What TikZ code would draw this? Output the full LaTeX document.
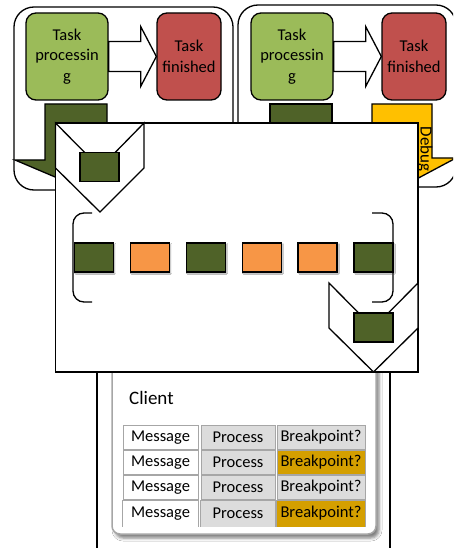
\documentclass[tikz,border=0pt]{standalone}
\usepackage{fontspec}
\setmainfont{Carlito}
\usetikzlibrary{shadows.blur,calc}
\definecolor{lgreen}{HTML}{9BBB59}
\definecolor{tred}{HTML}{C0504D}
\definecolor{dgreen}{HTML}{4F6228}
\definecolor{orng}{HTML}{F79646}
\definecolor{ylw}{HTML}{FFC000}
\definecolor{goldc}{HTML}{D49F00}
\definecolor{cgray}{HTML}{DCDCDC}
\definecolor{bgray}{HTML}{A6A6A6}
\begin{document}
\begin{tikzpicture}[x=1pt,y=-1pt,line join=miter,
  ol/.style={draw=black,line width=1.3pt},
  container/.style={ol,fill=white,rounded corners=20pt},
  task/.style={ol,rounded corners=10pt,minimum width=82pt,minimum height=87pt,align=center,inner sep=0pt,font=\fontsize{16.5}{20.5}\selectfont},
  blockarrow/.style={ol,fill=white},
  sq/.style={ol,minimum width=39pt,minimum height=29pt,inner sep=0pt},
  sqshadow/.style={blur shadow={shadow xshift=1.2pt,shadow yshift=-1.2pt,shadow blur radius=1.2pt,shadow opacity=35}},
  cell/.style={draw=bgray,line width=0.9pt,minimum height=24pt,inner sep=0pt,font=\fontsize{16.5}{19}\selectfont},
  lastcell/.style={cell,draw=none,minimum height=26pt},
  cellside/.style={draw=bgray,line width=0.9pt},
  c1/.style={fill=white,minimum width=75pt},
  c2/.style={fill=cgray,minimum width=74pt},
  c3/.style={fill=cgray,minimum width=88pt},
  c3h/.style={fill=goldc,minimum width=88pt},
  bracket/.style={ol,rounded corners=11pt}
]
\useasboundingbox (0,0) rectangle (453,548);
\clip (0,0) rectangle (453,548);

% containers
\draw[container] (14,7) rectangle (233,190);
\draw[container] (238,5) rectangle (456,187);

% left container content
\node[task,fill=lgreen] (tp1) at (67,56.5) {Task\\processin\\g};
\node[task,fill=tred,minimum width=64pt] (tf1) at (189,56.5) {Task\\finished};
\draw[blockarrow] ($(tp1.east)+(0,-15)$) -- ++(32,0) -- ++(0,-15) -- (tf1.west)
  -- ($(tp1.east)+(32,30)$) -- ++(0,-15) -- ($(tp1.east)+(0,15)$) -- cycle;
\draw[ol,fill=dgreen] (45,104) -- (107,104) -- (107,199) -- (15,160) -- (45,160) -- cycle;

% right container content
\node[task,fill=lgreen] (tp2) at (292,56.5) {Task\\processin\\g};
\node[task,fill=tred,minimum width=64pt] (tf2) at (414,56.5) {Task\\finished};
\draw[blockarrow] ($(tp2.east)+(0,-15)$) -- ++(32,0) -- ++(0,-15) -- (tf2.west)
  -- ($(tp2.east)+(32,30)$) -- ++(0,-15) -- ($(tp2.east)+(0,15)$) -- cycle;
\draw[ol,fill=dgreen] (270,104) rectangle (332,150);
\draw[ol,fill=ylw] (372,104) -- (432,104) -- (432,158) -- (456,158) -- (380,198.5) -- (372,198.5) -- cycle;
\node[rotate=-90,font=\fontsize{17}{20}\selectfont,inner sep=0pt] (dbg) at (425,149) {Debug};

% client area
\draw[ol,fill=white] (97,300) rectangle (390,560);
\draw[draw=bgray,line width=1.5pt,fill=white,rounded corners=8pt,
  blur shadow={shadow xshift=3pt,shadow yshift=-4pt,shadow blur radius=3pt,shadow opacity=50}]
  (112,330) rectangle (376,534);
\node[anchor=base west,font=\fontsize{19}{22}\selectfont,inner sep=0pt] (client) at (129,404) {Client};
\foreach \r/\y/\h in {1/437.5/c3,2/462.5/c3h,3/487.5/c3}{
  \node[cell,c1] (m\r) at (160.5,\y) {Message};
  \node[cell,c2] (p\r) at (238,\y) {Process};
  \node[cell,\h] (b\r) at (321,\y) {Breakpoint?};
}
\node[lastcell,c1] (m4) at (160.5,513.5) {Message};
\node[lastcell,c2] (p4) at (238,513.5) {Process};
\node[lastcell,c3h] (b4) at (321,513.5) {Breakpoint?};
\foreach \n in {m4,p4,b4}{
  \draw[cellside] (\n.south west) -- (\n.north west) -- (\n.north east) -- (\n.south east);
}

% overlay
\draw[ol,fill=white] (55.5,123) rectangle (418,372);
\draw[ol,fill=white] (55.5,123) -- (100,168) -- (144,123) -- (144,168) -- (100,212) -- (55.5,168) -- cycle;
\node[sq,fill=dgreen] (s0) at (99.5,167) {};
\draw[ol,fill=white] (329,283) -- (373.5,328) -- (418,283) -- (418,328) -- (373.5,372) -- (329,328) -- cycle;
\node[sq,fill=dgreen] (s7) at (373.5,327.5) {};

\draw[bracket] (92,213) -- (73,213) -- (73,302) -- (92,302);
\draw[bracket] (372,213) -- (393,213) -- (393,302) -- (372,302);

\node[sq,sqshadow,fill=dgreen] (s1) at (94,257.5) {};
\node[sq,sqshadow,fill=orng] (s2) at (149.9,257.5) {};
\node[sq,sqshadow,fill=dgreen] (s3) at (205.8,257.5) {};
\node[sq,sqshadow,fill=orng] (s4) at (261.7,257.5) {};
\node[sq,sqshadow,fill=orng] (s5) at (317.6,257.5) {};
\node[sq,sqshadow,fill=dgreen] (s6) at (373.5,257.5) {};
\end{tikzpicture}
\end{document}
